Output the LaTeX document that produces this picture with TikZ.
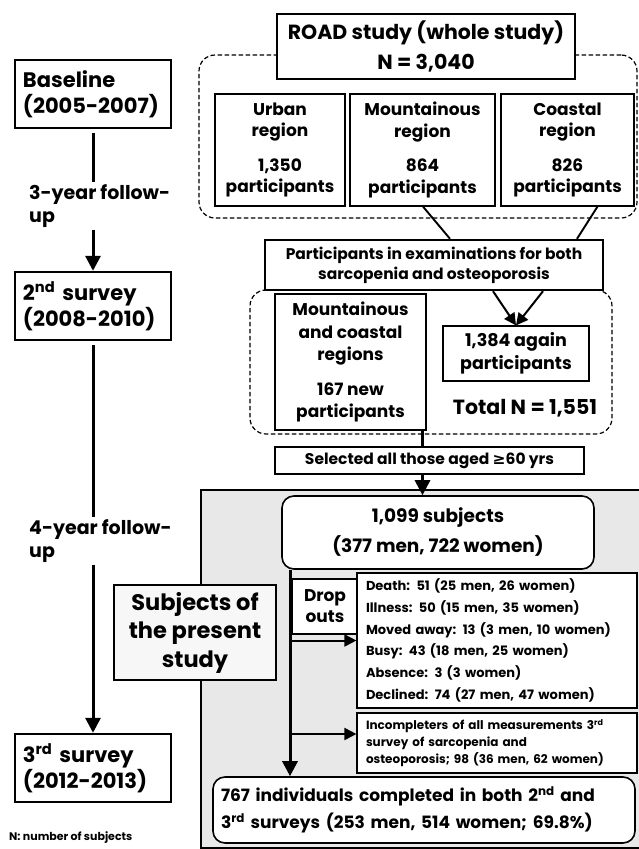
\documentclass[tikz,border=0pt]{standalone}
\usepackage{fontspec}
\setmainfont{Poppins}
\newfontfamily\symfont{DejaVu Sans}
\usetikzlibrary{arrows.meta}

\newcommand{\fs}[2]{\fontsize{#1}{#2}\selectfont\bfseries}

\begin{document}
\begin{tikzpicture}[x=1pt, y=-1pt,
  box/.style={draw, line width=2.4pt, fill=white, inner sep=0pt, align=center},
  thinbox/.style={draw, line width=1.2pt, fill=white, inner sep=0pt, align=center},
  roundbox/.style={draw, line width=1.6pt, fill=white, rounded corners=12pt, inner sep=0pt, align=center},
  region/.style={draw, dash pattern=on 4.5pt off 2.5pt, line width=1.2pt, rounded corners=16pt, inner sep=0pt},
  panel/.style={draw, line width=2.4pt, fill=black!9, inner sep=0pt},
  link/.style={line width=3pt},
  thinlink/.style={line width=1.9pt},
  arr/.style={line width=3pt, -{Triangle[length=15pt, width=15pt]}},
  sidearr/.style={line width=2pt, -{Triangle[length=12pt, width=12pt]}}
]
\useasboundingbox (0,0) rectangle (638,849);

% Background frames
\node[panel]  (panel) at (421,669)   [minimum width=440pt, minimum height=358pt] {};
\node[region] (reg1)  at (418,136.5) [minimum width=438pt, minimum height=163pt] {};
\node[region] (reg2)  at (431,362)   [minimum width=362pt, minimum height=144pt] {};

% Time line (left column)
\node[box, align=left, text width=140pt, inner sep=8pt, minimum height=68pt, font=\fs{21}{26}]
  (baseline) at (93,94)  {Baseline\\(2005-2007)};
\node[box, align=left, text width=140pt, inner sep=8pt, minimum height=68pt, font=\fs{21}{26}]
  (second)   at (93,306) {2\textsuperscript{nd} survey\\(2008-2010)};
\node[box, align=left, text width=140pt, inner sep=8pt, minimum height=68pt, font=\fs{21}{26}]
  (third)    at (93,768) {3\textsuperscript{rd} survey\\(2012-2013)};
\node[anchor=west, align=left, inner sep=2pt, font=\fs{19}{23}] (fu1) at (27,206) {3-year follow-\\up};
\node[anchor=west, align=left, inner sep=2pt, font=\fs{19}{23}] (fu2) at (27,541) {4-year follow-\\up};
\node[anchor=west, inner sep=0pt, font=\fs{11}{12}] (note) at (9,838) {N: number of subjects};

% ROAD study
\node[box, minimum width=298pt, minimum height=65pt, font=\fs{20.5}{29}] (road) at (426,46.5)
  {ROAD study (whole study)\\[1pt]N = 3,040};
\node[thinbox, minimum width=130pt, minimum height=112pt, font=\fs{17}{21.5}] (urban) at (280,150)
  {Urban\\region\\[13pt]1,350\\participants};
\node[thinbox, minimum width=145pt, minimum height=112pt, font=\fs{17}{21.5}] (mount) at (422.5,150)
  {Mountainous\\region\\[13pt]864\\participants};
\node[thinbox, minimum width=133pt, minimum height=112pt, font=\fs{17}{21.5}] (coast) at (567.5,150)
  {Coastal\\region\\[13pt]826\\participants};

% 2nd survey participants
\node[box, minimum width=338pt, minimum height=50pt, font=\fs{15.5}{20}] (both) at (434,265)
  {Participants in examinations for both\\sarcopenia and osteoporosis};
\node[thinbox, minimum width=151pt, minimum height=136pt, font=\fs{17}{22.5}] (newp) at (350.5,362)
  {Mountainous\\and coastal\\regions\\[12pt]167 new\\participants};
\node[thinbox, minimum width=146pt, minimum height=55pt, font=\fs{17.5}{23}] (again) at (516,353.5)
  {1,384 again\\participants};
\node[inner sep=0pt, font=\fs{20.5}{22}] (total) at (525,408) {Total N = 1,551};
\node[box, minimum width=309pt, minimum height=27pt, font=\fs{15.5}{17}] (select) at (429.5,460.5)
  {Selected all those aged {\symfont\bfseries ≥}60 yrs};

% Subjects of the present study
\node[roundbox, minimum width=312pt, minimum height=73pt, font=\fs{18.5}{30}] (subj) at (438,532.5)
  {1,099 subjects\\(377 men, 722 women)};
\node[box, fill=black!3, minimum width=162pt, minimum height=95pt, font=\fs{22.5}{28.5}] (present) at (195,632.5)
  {Subjects of\\the present\\study};
\node[thinbox, minimum width=66pt, minimum height=55pt, font=\fs{17}{21}] (drop) at (325,606.5) {Drop\\outs};
\node[thinbox, align=left, text width=262pt, inner xsep=9pt, inner ysep=3pt, minimum height=135pt, font=\fs{13}{21.8}] (reasons) at (497,640.5)
  {Death: 51 (25 men, 26 women)\\Illness: 50 (15 men, 35 women)\\Moved away: 13 (3 men, 10 women)\\%
   Busy: 43 (18 men, 25 women)\\Absence: 3 (3 women)\\Declined: 74 (27 men, 47 women)};
\node[thinbox, align=left, text width=262pt, inner xsep=9pt, inner ysep=3pt, minimum height=60pt, font=\fs{12}{17}] (incomp) at (497,743)
  {Incompleters of all measurements 3\textsuperscript{rd}\\survey of sarcopenia and\\osteoporosis; 98 (36 men, 62 women)};
\node[roundbox, align=left, text width=406pt, inner xsep=8pt, inner ysep=3pt, minimum height=66pt, font=\fs{17}{27}] (final) at (424,810)
  {767 individuals completed in both 2\textsuperscript{nd} and\\3\textsuperscript{rd} surveys (253 men, 514 women; 69.8\%)};

% Arrows
\draw[link] ([yshift=-4pt]baseline.south) -- (baseline.south |- fu1.north);
\draw[arr]  (baseline.south |- fu1.south) -- (second.north);
\draw[link] ([yshift=-4pt]second.south) -- (second.south |- fu2.north);
\draw[arr]  (second.south |- fu2.south) -- (third.north);
\draw[thinlink] ([xshift=0.5pt]mount.south) -- ([xshift=16pt]both.north);
\draw[thinlink] ([xshift=30pt]coast.south) -- ([xshift=143pt]both.north);
\draw[sidearr] ([xshift=59pt]both.south) -- (again.north);
\draw[sidearr] ([xshift=109pt]both.south) -- (again.north);
\draw[link] ([xshift=-7pt]select.north |- newp.south) -- ([xshift=-7pt]select.north);
\draw[arr]  ([xshift=-7pt]select.south) -- ([xshift=-7pt]select.south |- subj.north);
\coordinate (spine) at ([xshift=-148pt]subj.south);
\coordinate (inc) at ([yshift=9pt]incomp.west);
\draw[arr] (spine) -- (spine |- final.north);
\draw[sidearr] (spine |- reasons.west) -- (reasons.west);
\draw[sidearr] (spine |- inc) -- (inc);
\end{tikzpicture}
\end{document}
